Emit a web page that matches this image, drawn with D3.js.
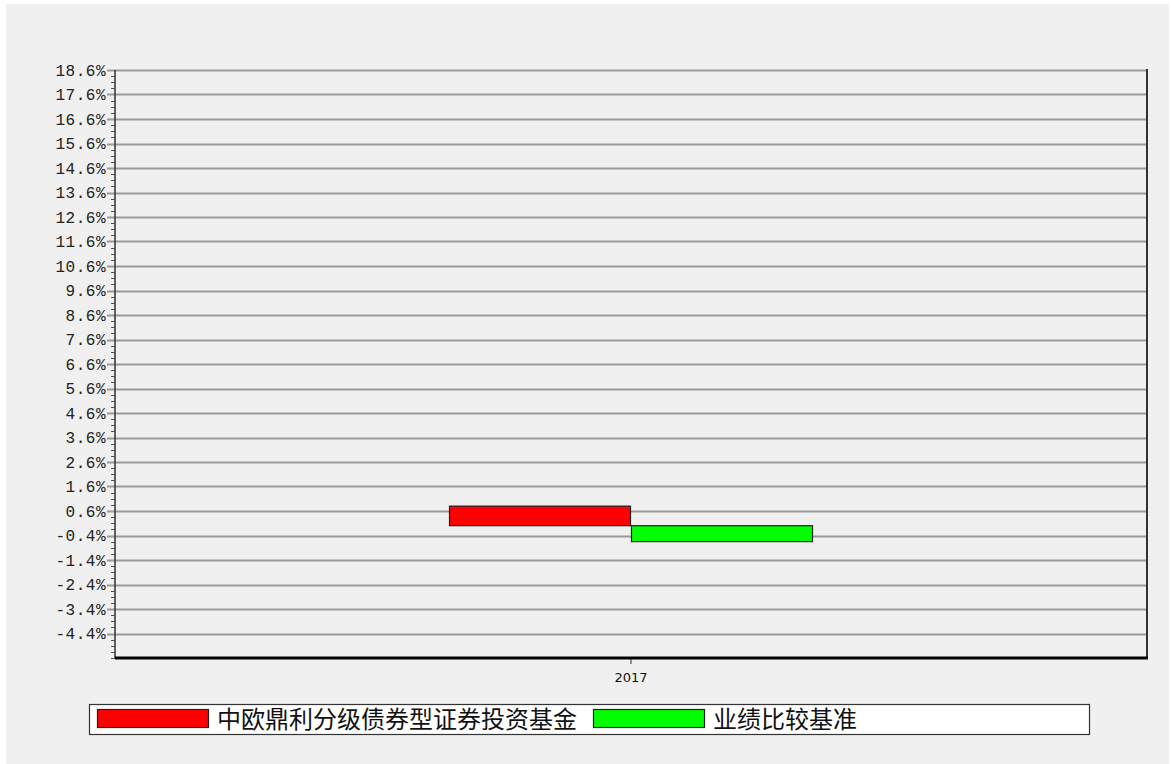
<!DOCTYPE html>
<html>
<head>
<meta charset="utf-8">
<script src="https://cdn.jsdelivr.net/npm/d3@7"></script>
<style>
  body { margin: 0; background: #fff; }
  svg { display: block; }
</style>
</head>
<body>
<svg id="chart" width="1172" height="764"></svg>
<script>
// data
var categories = ["2017"];
var seriesNames = ["中欧鼎利分级债券型证券投资基金", "业绩比较基准"];
var seriesColors = ["#ff0000", "#00ff00"];
var fundValues = [0.8];
var benchValues = [-0.65];
var yTicks = [18.6, 17.6, 16.6, 15.6, 14.6, 13.6, 12.6, 11.6, 10.6, 9.6, 8.6, 7.6, 6.6, 5.6, 4.6, 3.6, 2.6, 1.6, 0.6, -0.4, -1.4, -2.4, -3.4, -4.4];
var yMin = -5.4, yMax = 18.6;

var svg = d3.select('#chart');

// gray panel
svg.append('rect').attr('x', 6).attr('y', 4).attr('width', 1163).attr('height', 760).attr('fill', '#f0f0f0');

var pLeft = 115, pRight = 1147, pTop = 70, pBottom = 658;

var y = d3.scaleLinear().domain([yMin, yMax]).range([pBottom, pTop]);
var x = d3.scaleBand().domain(categories).range([pLeft, pRight]).paddingOuter(0.9176).paddingInner(0);
var xs = d3.scaleBand().domain(d3.range(seriesNames.length)).range([0, x.bandwidth()]);

// minor ticks every 0.25
var minor = d3.range(0, 97).map(function(i){ return yMin + i * 0.25; });
svg.append('g').selectAll('line').data(minor).join('line')
  .attr('x1', pLeft - 4).attr('x2', pLeft)
  .attr('y1', function(d){ return Math.round(y(d)) + 0.5; }).attr('y2', function(d){ return Math.round(y(d)) + 0.5; })
  .attr('stroke', '#555').attr('stroke-width', 1);

// gridlines
svg.append('g').selectAll('line').data(yTicks).join('line')
  .attr('x1', pLeft - 8).attr('x2', pRight)
  .attr('y1', function(d){ return Math.round(y(d)) + 0.5; }).attr('y2', function(d){ return Math.round(y(d)) + 0.5; })
  .attr('stroke', '#9a9a9a').attr('stroke-width', 2);

// y labels
svg.append('g').selectAll('text').data(yTicks).join('text')
  .attr('x', 106).attr('y', function(d){ return y(d); })
  .attr('dy', '0.35em').attr('text-anchor', 'end')
  .style('font-family', 'Liberation Mono, DejaVu Sans Mono, monospace')
  .style('font-size', '16px').style('letter-spacing', '0.5px')
  .attr('fill', '#222')
  .text(function(d){ return d.toFixed(1) + '%'; });

// bars
var allValues = [fundValues, benchValues];
categories.forEach(function(c, ci){
  allValues.forEach(function(vals, si){
    var v = vals[ci];
    svg.append('rect')
      .attr('x', x(c) + xs(si) + 0.5)
      .attr('y', y(Math.max(0, v)))
      .attr('width', xs.bandwidth() - 1)
      .attr('height', Math.abs(y(v) - y(0)))
      .attr('fill', seriesColors[si])
      .attr('stroke', '#222').attr('stroke-width', 1.2);
  });
});

// axes frame
svg.append('line').attr('x1', pLeft).attr('x2', pLeft).attr('y1', pTop).attr('y2', pBottom)
  .attr('stroke', '#333').attr('stroke-width', 1.5);
svg.append('line').attr('x1', pRight).attr('x2', pRight).attr('y1', pTop - 1).attr('y2', pBottom)
  .attr('stroke', '#333').attr('stroke-width', 2);
svg.append('line').attr('x1', pLeft).attr('x2', pRight + 1).attr('y1', pBottom).attr('y2', pBottom)
  .attr('stroke', '#000').attr('stroke-width', 3);

// x axis tick + label
var xAxis = svg.append('g').attr('transform', 'translate(0,' + (pBottom + 1) + ')')
  .call(d3.axisBottom(x).tickSize(5).tickSizeOuter(0));
xAxis.select('.domain').remove();
xAxis.selectAll('line').attr('stroke', '#333');
xAxis.selectAll('text').attr('fill', '#111').attr('dy', '1.15em')
  .style('font-family', 'DejaVu Sans, sans-serif').style('font-size', '13px');

// legend
var lg = svg.append('g');
lg.append('rect').attr('x', 89.5).attr('y', 704.5).attr('width', 1000).attr('height', 30)
  .attr('fill', '#fff').attr('stroke', '#333').attr('stroke-width', 1.2);
var legendX = [97, 593];
seriesNames.forEach(function(n, i){
  lg.append('rect').attr('x', legendX[i] + 0.5).attr('y', 709.5).attr('width', 111).attr('height', 18)
    .attr('fill', seriesColors[i]).attr('stroke', '#222').attr('stroke-width', 1.2);
  lg.append('text').attr('x', legendX[i] + 120).attr('y', 719).attr('dy', '0.36em')
    .style('font-family', 'Noto Sans CJK SC, sans-serif').style('font-size', '24px')
    .attr('fill', '#111').text(n);
});
</script>
</body>
</html>
